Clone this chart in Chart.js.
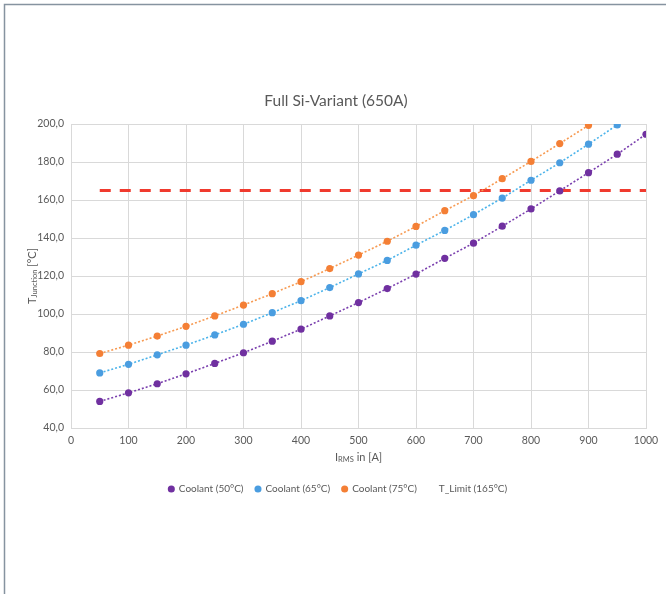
<!DOCTYPE html>
<html>
<head>
<meta charset="utf-8">
<script src="https://cdn.jsdelivr.net/npm/chart.js@4.4.1/dist/chart.umd.min.js"></script>
<style>
  html, body { margin: 0; padding: 0; background: #fff; }
  #wrap { position: relative; width: 666px; height: 594px; }
</style>
</head>
<body>
<div id="wrap"><canvas id="chart" width="666" height="594"></canvas></div>
<script>
// I_RMS in A
const currents = [50, 100, 150, 200, 250, 300, 350, 400, 450, 500, 550, 600, 650, 700, 750, 800, 850, 900, 950, 1000];
// junction temperature per coolant temperature
const coolant50 = [54.0, 58.5, 63.3, 68.5, 74.0, 79.6, 85.7, 92.0, 99.0, 106.0, 113.4, 121.0, 129.3, 137.3, 146.2, 155.3, 164.8, 174.4, 184.1, 194.6];
const coolant65 = [69.0, 73.5, 78.5, 83.6, 89.0, 94.6, 100.7, 107.0, 113.9, 121.1, 128.2, 136.2, 144.0, 152.3, 161.0, 170.4, 179.6, 189.4, 199.5];
const coolant75 = [79.2, 83.6, 88.4, 93.5, 99.0, 104.7, 110.7, 117.0, 123.9, 131.0, 138.3, 146.1, 154.4, 162.3, 171.2, 180.3, 189.7, 199.3];
const limitX = [50, 1000];
const limitY = [165, 165];
const seriesNames = ["Coolant (50°C)", "Coolant (65°C)", "Coolant (75°C)", "T_Limit (165°C)"];
const yTicks = [40, 60, 80, 100, 120, 140, 160, 180, 200];
const xTicks = [0, 100, 200, 300, 400, 500, 600, 700, 800, 900, 1000];

const FONT = "Lato, 'DejaVu Sans', sans-serif";
const TEXT = "#595959";

function toPoints(xs, ys) {
    return ys.map((y, i) => ({x: xs[i], y: y}));
}

function curve(label, values, color, lineColor) {
    return {
        label: label,
        data: toPoints(currents, values),
        borderColor: lineColor,
        backgroundColor: color,
        pointBackgroundColor: color,
        pointBorderColor: color,
        pointRadius: 3.6,
        pointBorderWidth: 0,
        borderWidth: 1.6,
        borderDash: [2, 2],
        showLine: true,
        fill: false,
        tension: 0
    };
}

// title, axis titles with subscripts, frame
const decorations = {
    id: 'decorations',
    beforeDraw(chart) {
        const c = chart.ctx;
        c.save();
        c.fillStyle = '#fff';
        c.fillRect(0, 0, chart.width, chart.height);
        c.strokeStyle = '#8693a0';
        c.lineWidth = 1.5;
        c.beginPath();
        c.moveTo(4.5, chart.height);
        c.lineTo(4.5, 4.5);
        c.lineTo(chart.width, 4.5);
        c.stroke();
        c.restore();
    },
    afterDraw(chart) {
        const c = chart.ctx;
        const area = chart.chartArea;
        c.save();
        c.fillStyle = TEXT;
        c.textBaseline = 'middle';

        c.font = "15.5px " + FONT;
        c.textAlign = 'center';
        c.fillText("Full Si-Variant (650A)", 336, 101);

        // x title: I_RMS in [A]
        const big = "11px " + FONT, small = "7.5px " + FONT;
        c.font = big; const wI = c.measureText("I").width; const wRest = c.measureText(" in [A]").width;
        c.font = small; const wSub = c.measureText("RMS").width;
        let x = (area.left + area.right) / 2 - (wI + wSub + wRest) / 2;
        const y = 457;
        c.textAlign = 'left';
        c.font = big; c.fillText("I", x, y); x += wI;
        c.font = small; c.fillText("RMS", x, y + 3); x += wSub;
        c.font = big; c.fillText(" in [A]", x, y);

        // y title: T_Junction [°C]
        c.translate(32, (area.top + area.bottom) / 2);
        c.rotate(-Math.PI / 2);
        c.font = big; const wT = c.measureText("T").width; const wU = c.measureText(" [°C]").width;
        c.font = small; const wJ = c.measureText("Junction").width;
        x = -(wT + wJ + wU) / 2;
        c.font = big; c.fillText("T", x, 0); x += wT;
        c.font = small; c.fillText("Junction", x, 3); x += wJ;
        c.font = big; c.fillText(" [°C]", x, 0);
        c.restore();
    }
};

const config = {
    type: 'scatter',
    data: {
        datasets: [
            curve(seriesNames[0], coolant50, '#7030a0', '#7a3fae'),
            curve(seriesNames[1], coolant65, '#4a9de0', '#4bb3ea'),
            curve(seriesNames[2], coolant75, '#f47f35', '#f79a52'),
            {
                label: seriesNames[3],
                data: toPoints(limitX, limitY),
                borderColor: '#f03a2e',
                backgroundColor: '#f03a2e',
                borderWidth: 3,
                borderDash: [11, 9],
                pointRadius: 0,
                showLine: true,
                fill: false
            }
        ]
    },
    plugins: [decorations],
    options: {
        responsive: false,
        animation: false,
        layout: {
            padding: {left: 30, right: 20, top: 124, bottom: 90}
        },
        scales: {
            x: {
                type: 'linear',
                min: 0,
                max: 1000,
                afterBuildTicks: (scale) => { scale.ticks = xTicks.map(v => ({value: v})); },
                afterFit: (scale) => { scale.height = 44; },
                grid: {color: '#d9d9d9', lineWidth: 1, drawTicks: false},
                border: {color: '#d9d9d9'},
                ticks: {
                    color: TEXT,
                    font: {family: FONT, size: 10.5},
                    padding: 6,
                    maxRotation: 0,
                    callback: (v) => String(v)
                }
            },
            y: {
                type: 'linear',
                min: 40,
                max: 200,
                afterBuildTicks: (scale) => { scale.ticks = yTicks.map(v => ({value: v})); },
                afterFit: (scale) => { scale.width = 41; },
                grid: {color: '#d9d9d9', lineWidth: 1, drawTicks: false},
                border: {color: '#d9d9d9'},
                ticks: {
                    color: TEXT,
                    font: {family: FONT, size: 10.5},
                    padding: 7,
                    callback: (v) => v.toFixed(1).replace('.', ',')
                }
            }
        },
        plugins: {
            title: {display: false},
            tooltip: {enabled: false},
            legend: {
                position: 'bottom',
                labels: {
                    color: TEXT,
                    font: {family: FONT, size: 10},
                    usePointStyle: true,
                    pointStyle: 'circle',
                    boxWidth: 5,
                    boxHeight: 5,
                    padding: 12,
                    generateLabels: (chart) => {
                        const items = Chart.defaults.plugins.legend.labels.generateLabels(chart);
                        items.forEach((item, i) => {
                            item.pointStyle = 'circle';
                            item.lineWidth = 0;
                            if (i === 3) {
                                item.fillStyle = 'rgba(0,0,0,0)';
                                item.strokeStyle = 'rgba(0,0,0,0)';
                            }
                        });
                        return items;
                    }
                }
            }
        }
    }
};

const myChart = new Chart(document.getElementById('chart').getContext('2d'), config);
</script>
</body>
</html>
